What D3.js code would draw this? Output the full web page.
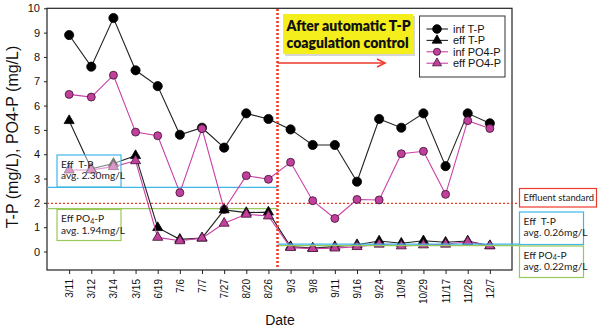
<!DOCTYPE html>
<html>
<head>
<meta charset="utf-8">
<script src="https://cdn.jsdelivr.net/npm/d3@7/dist/d3.min.js"></script>
<style>
  html, body { margin: 0; padding: 0; background: #fff; }
  svg { display: block; }
</style>
</head>
<body>
<svg id="chart" width="600" height="332"></svg>
<script>
// Sampling dates
const dates = ["3/11","3/12","3/14","3/15","6/19","7/6","7/7","7/27","8/20","8/26",
               "9/3","9/8","9/11","9/16","9/24","10/9","10/29","11/17","11/26","12/7"];

// Phosphorus concentrations (mg/L)
const infTP   = [8.9, 7.6, 9.6, 7.45, 6.8, 4.8, 5.09, 4.27, 5.68, 5.45,
                 5.02, 4.38, 4.38, 2.87, 5.45, 5.09, 5.68, 3.51, 5.68, 5.27];
const effTP   = [5.38, 3.4, 3.62, 3.94, 0.98, 0.5, 0.55, 1.71, 1.6, 1.62,
                 0.2, 0.14, 0.2, 0.28, 0.43, 0.34, 0.44, 0.38, 0.43, 0.24];
const infPO4  = [6.46, 6.35, 7.25, 4.91, 4.76, 2.42, 5.05, 1.73, 3.12, 2.97,
                 3.67, 2.09, 1.36, 2.14, 2.12, 4.02, 4.12, 2.35, 5.38, 5.06];
const effPO4  = [3.35, 3.35, 3.49, 3.73, 0.58, 0.44, 0.55, 1.16, 1.53, 1.46,
                 0.16, 0.12, 0.14, 0.2, 0.3, 0.23, 0.27, 0.3, 0.4, 0.23];

const yTicks = [0, 1, 2, 3, 4, 5, 6, 7, 8, 9, 10];

// Reference levels (mg/L)
const effluentStandard = 1.98;
const beforeTPLine = 2.64, beforePO4Line = 1.76;
const afterTPLine = 0.3, afterPO4Line = 0.24;
const controlStartAfter = "8/26";

const seriesNames = ["inf T-P", "eff T-P", "inf PO4-P", "eff PO4-P"];

const MAG = "#c93fa6";
const MAG_FILL = "#c0409c";
const BLUE = "#3fb6e6";
const GREEN = "#99c95a";
const RED = "#ee3a2a";

const svg = d3.select("#chart");
const L = 47, R = 512, T = 8.3, B = 270;

const x = d3.scalePoint().domain(dates).range([L, R]).padding(1);
const y = d3.scaleLinear().domain([-0.76, 10]).range([B, T]);

const font = "Arial, 'Liberation Sans', sans-serif";
const boxFont = "Lato, 'Open Sans', sans-serif";

// frame
svg.append("rect").attr("x", L).attr("y", T).attr("width", R - L).attr("height", B - T)
  .attr("fill", "none").attr("stroke", "#222").attr("stroke-width", 1.2);

// axes
const yAxis = svg.append("g").attr("transform", `translate(${L},0)`)
  .call(d3.axisLeft(y).tickValues(yTicks).tickSize(3).tickPadding(4));
yAxis.select(".domain").remove();
yAxis.selectAll("text").attr("font-family", font).attr("font-size", 11).attr("fill", "#111");
yAxis.selectAll("line").attr("stroke", "#222");

const xAxis = svg.append("g").attr("transform", `translate(0,${B})`)
  .call(d3.axisBottom(x).tickSize(4).tickPadding(5));
xAxis.select(".domain").remove();
xAxis.selectAll("line").attr("stroke", "#222");
xAxis.selectAll("text")
  .attr("font-family", font).attr("font-size", 10).attr("fill", "#111")
  .attr("text-anchor", "end")
  .attr("transform", "rotate(-90)")
  .attr("x", -9).attr("y", 0).attr("dy", "0.35em");

// axis titles
svg.append("text").attr("transform", "translate(17.5,137) rotate(-90)")
  .attr("text-anchor", "middle").attr("font-family", font).attr("font-size", 16)
  .attr("fill", "#111").text("T-P (mg/L), PO4-P (mg/L)");
svg.append("text").attr("x", 280).attr("y", 325).attr("text-anchor", "middle")
  .attr("font-family", font).attr("font-size", 14).attr("fill", "#111").text("Date");

// reference lines
const xCtrl = x(controlStartAfter) + 0.41 * x.step();
const hLine = (x1, x2, v, color, dash, w) => svg.append("line")
  .attr("x1", x1).attr("x2", x2).attr("y1", y(v)).attr("y2", y(v))
  .attr("stroke", color).attr("stroke-width", w || 1.3)
  .attr("stroke-dasharray", dash || null);

hLine(L, xCtrl, beforeTPLine, BLUE);
hLine(L, xCtrl, beforePO4Line, GREEN);
hLine(L, 519, effluentStandard, RED, "2,2", 1.2);

// data lines and markers
const line = vals => d3.line().x((d, i) => x(dates[i])).y(d => y(d))(vals);
const drawSeries = (vals, stroke, shape, fill, size, mstroke) => {
  svg.append("path").attr("d", line(vals)).attr("fill", "none")
    .attr("stroke", stroke).attr("stroke-width", 1.1);
  svg.append("g").selectAll("path").data(vals).join("path")
    .attr("transform", (d, i) => `translate(${x(dates[i])},${y(d)})`)
    .attr("d", d3.symbol(shape, size)())
    .attr("fill", fill).attr("stroke", mstroke).attr("stroke-width", 0.8);
};

drawSeries(infTP, "#222", d3.symbolCircle, "#000", 66, "#000");
drawSeries(infPO4, MAG, d3.symbolCircle, MAG_FILL, 50, "#3a1030");
drawSeries(effTP, "#222", d3.symbolTriangle, "#000", 44, "#000");
drawSeries(effPO4, MAG, d3.symbolTriangle, MAG_FILL, 44, "#3a1030");

// post-control average lines
hLine(xCtrl, 519, afterTPLine, BLUE);
hLine(xCtrl, 519, afterPO4Line, GREEN);

// control start marker
svg.append("line").attr("x1", xCtrl).attr("x2", xCtrl).attr("y1", 9).attr("y2", B - 2)
  .attr("stroke", RED).attr("stroke-width", 2.6).attr("stroke-dasharray", "2,2");

// arrow
const arrowY = 63;
svg.append("line").attr("x1", xCtrl).attr("x2", 385).attr("y1", arrowY).attr("y2", arrowY)
  .attr("stroke", RED).attr("stroke-width", 1.6);
svg.append("path").attr("d", `M377,${arrowY - 4} L385,${arrowY} L377,${arrowY + 4}`)
  .attr("fill", "none").attr("stroke", RED).attr("stroke-width", 1.6);

// annotation banner
svg.append("rect").attr("x", 285).attr("y", 16).attr("width", 130).attr("height", 40)
  .attr("fill", "#bbb").attr("opacity", 0.6);
svg.append("rect").attr("x", 283).attr("y", 14).attr("width", 130).attr("height", 40)
  .attr("fill", "#f4ee1c");
svg.append("text").attr("x", 286.5).attr("y", 31).attr("font-family", boxFont)
  .attr("font-weight", 800).attr("font-size", 14).attr("fill", "#111")
  .text("After automatic T-P");
svg.append("text").attr("x", 286.5).attr("y", 48).attr("font-family", boxFont)
  .attr("font-weight", 800).attr("font-size", 14).attr("fill", "#111")
  .text("coagulation control");

// legend
const lg = svg.append("g");
lg.append("rect").attr("x", 419.5).attr("y", 16).attr("width", 85.5).attr("height", 61)
  .attr("fill", "#fff").attr("stroke", "#333").attr("stroke-width", 1);
const legendItems = [
  { name: seriesNames[0], color: "#222", shape: d3.symbolCircle, fill: "#000", size: 60 },
  { name: seriesNames[1], color: "#222", shape: d3.symbolTriangle, fill: "#000", size: 40 },
  { name: seriesNames[2], color: MAG, shape: d3.symbolCircle, fill: MAG_FILL, size: 40 },
  { name: seriesNames[3], color: MAG, shape: d3.symbolTriangle, fill: MAG_FILL, size: 36 }
];
legendItems.forEach((it, i) => {
  const ly = 29 + i * 11.4;
  lg.append("line").attr("x1", 426.5).attr("x2", 448).attr("y1", ly).attr("y2", ly)
    .attr("stroke", it.color).attr("stroke-width", 1.1);
  lg.append("path").attr("transform", `translate(437,${ly})`)
    .attr("d", d3.symbol(it.shape, it.size)()).attr("fill", it.fill)
    .attr("stroke", it.fill === "#000" ? "#000" : "#3a1030").attr("stroke-width", 0.8);
  lg.append("text").attr("x", 453).attr("y", ly).attr("dy", "0.35em")
    .attr("font-family", font).attr("font-size", 11).attr("fill", "#111").text(it.name);
});

// note boxes
const noteBox = (bx, by, bw, bh, color, lines, alpha, size) => {
  const g = svg.append("g");
  g.append("rect").attr("x", bx).attr("y", by).attr("width", bw).attr("height", bh)
    .attr("fill", "#fff").attr("fill-opacity", alpha).attr("stroke", color).attr("stroke-width", 1.2);
  lines.forEach((ln, i) => {
    const t = g.append("text").attr("x", bx + 4).attr("y", by + 12.5 + i * 11.8)
      .attr("font-family", boxFont).attr("font-size", size || 10.2).attr("fill", "#222");
    ln.forEach(part => {
      const s = t.append("tspan").text(part.t);
      if (part.sub) s.attr("font-size", 7).attr("dy", 1.5);
      else if (part.after) s.attr("dy", -1.5);
    });
  });
};
const tpLines = avg => [[{ t: "Eff\u00a0\u00a0T-P" }], [{ t: "avg. " + avg }]];
const po4Lines = avg => [[{ t: "Eff PO" }, { t: "4", sub: true }, { t: "-P", after: true }], [{ t: "avg. " + avg }]];

noteBox(57, 155, 64, 32, BLUE, tpLines("2.30mg/L"), 0.45);
noteBox(57, 209.5, 64, 31, GREEN, po4Lines("1.94mg/L"), 1);
noteBox(519.5, 188.5, 77, 18.5, RED, [[{ t: "Effluent standard" }]], 1, 9.4);
noteBox(519.5, 212, 64, 32.5, BLUE, tpLines("0.26mg/L"), 1);
noteBox(519.5, 246, 64, 31.5, GREEN, po4Lines("0.22mg/L"), 1);
</script>
</body>
</html>
